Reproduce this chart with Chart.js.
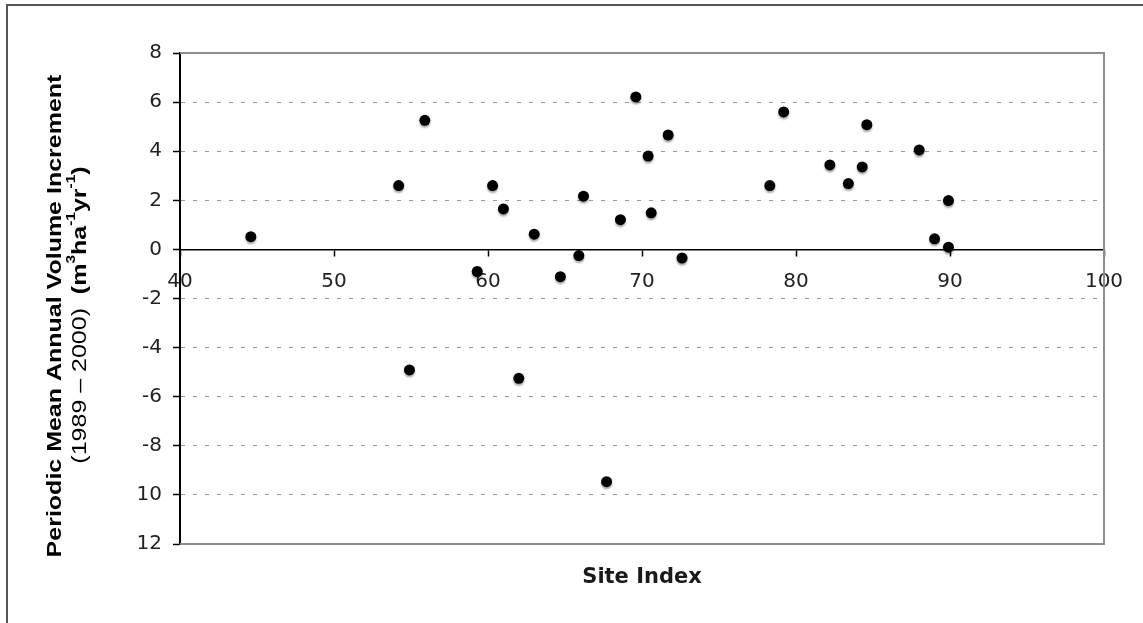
<!DOCTYPE html>
<html>
<head>
<meta charset="utf-8">
<title>Site Index vs Periodic Mean Annual Volume Increment</title>
<script src="https://cdn.jsdelivr.net/npm/chart.js@4.4.0/dist/chart.umd.min.js"></script>
<style>
  html, body { margin: 0; padding: 0; background: #fff; }
  #wrap { position: relative; width: 1143px; height: 623px; overflow: hidden; }
  /* outer picture frame: only top and left edges are visible in the shot */
  #frame { position: absolute; left: 6px; top: 4px; width: 1200px; height: 700px;
           border-top: 2px solid #555; border-left: 2px solid #555; }
  #chart { position: absolute; left: 0; top: 0; }
</style>
</head>
<body>
<div id="wrap">
  <div id="frame"></div>
  <canvas id="chart" width="1143" height="623"></canvas>
</div>
<script>
// Data.
const SITE_INDEX = [44.6, 54.2, 54.9, 55.9, 59.3, 60.3, 61.0, 62.0, 63.0, 64.7,
                    65.9, 66.2, 67.7, 68.6, 69.6, 70.4, 70.6, 71.7, 72.6, 78.3,
                    79.2, 82.2, 83.4, 84.3, 84.6, 88.0, 89.0, 89.9, 89.9];
const VOLUME_INCREMENT = [0.52, 2.60, -4.91, 5.26, -0.90, 2.60, 1.65, -5.25, 0.62, -1.11,
                          -0.25, 2.17, -9.46, 1.21, 6.21, 3.80, 1.49, 4.66, -0.35, 2.60,
                          5.60, 3.44, 2.68, 3.36, 5.08, 4.05, 0.43, 1.99, 0.09];

// Tick labels as printed (the source lost the minus on 10 and 12).
const Y_TICK_VALUES = [8, 6, 4, 2, 0, -2, -4, -6, -8, -10, -12];
const Y_TICK_LABELS = ["8", "6", "4", "2", "0", "-2", "-4", "-6", "-8", "10", "12"];
const X_TICK_VALUES = [40, 50, 60, 70, 80, 90, 100];
const X_TICK_LABELS = ["40", "50", "60", "70", "80", "90", "100"];

const X_TITLE = "Site Index";
const Y_TITLE_1 = "Periodic Mean Annual Volume Increment";
// second title line, split so the unit exponents can be raised
const Y_TITLE_2 = [
  { text: "(1989 \u2013 2000)  ", bold: false },
  { text: "(m", bold: true },
  { text: "3", bold: true, sup: true },
  { text: "ha", bold: true },
  { text: "-1", bold: true, sup: true },
  { text: "yr", bold: true },
  { text: "-1", bold: true, sup: true },
  { text: ")", bold: true }
];

const TICK_FONT = { family: '"DejaVu Sans", Verdana, sans-serif', size: 20 };
const TITLE_FAMILY = '"Liberation Sans", Arial, sans-serif';

// Draw a run of text parts centred at (cx, cy), rotated, stretched along the run.
function drawRun(ctx, parts, cx, cy, size, stretch) {
  const fontFor = p => `${p.bold ? "bold " : ""}${p.sup ? Math.round(size * 0.62) : size}px ${TITLE_FAMILY}`;
  let total = 0;
  parts.forEach(p => { ctx.font = fontFor(p); total += ctx.measureText(p.text).width; });
  ctx.save();
  ctx.translate(cx, cy);
  ctx.rotate(-Math.PI / 2);
  ctx.scale(stretch, 1);
  ctx.fillStyle = "#000";
  ctx.textBaseline = "middle";
  ctx.textAlign = "left";
  let x = -total / 2;
  parts.forEach(p => {
    ctx.font = fontFor(p);
    ctx.fillText(p.text, x, p.sup ? -size * 0.42 : 0);
    x += ctx.measureText(p.text).width;
  });
  ctx.restore();
}

// Plot frame (grey top/right/bottom), soft shadow under the dots, and the titles.
const decorations = {
  id: "decorations",
  beforeDatasetsDraw(chart) {
    const { ctx, chartArea: a } = chart;
    ctx.save();
    ctx.strokeStyle = "#8c8c8c";
    ctx.lineWidth = 2;
    ctx.beginPath();
    ctx.moveTo(a.left, a.top); ctx.lineTo(a.right, a.top);
    ctx.lineTo(a.right, a.bottom); ctx.lineTo(a.left, a.bottom);
    ctx.stroke();
    ctx.restore();
    ctx.save();
    ctx.shadowColor = "rgba(0,0,0,0.35)";
    ctx.shadowOffsetY = 2;
    ctx.shadowBlur = 2;
  },
  afterDatasetsDraw(chart) {
    chart.ctx.restore();
  },
  afterDraw(chart) {
    const { ctx, chartArea: a } = chart;
    drawRun(ctx, [{ text: Y_TITLE_1, bold: true }], 55, 316, 21, 1.19);
    drawRun(ctx, Y_TITLE_2, 80, 315, 21, 1.19);
    ctx.save();
    ctx.font = `bold 21px "DejaVu Sans", Verdana, sans-serif`;
    ctx.fillStyle = "#1a1a1a";
    ctx.textAlign = "center";
    ctx.textBaseline = "middle";
    ctx.fillText(X_TITLE, (a.left + a.right) / 2, 578);
    ctx.restore();
  }
};

const points = SITE_INDEX.map((x, i) => ({ x, y: VOLUME_INCREMENT[i] }));

new Chart(document.getElementById("chart").getContext("2d"), {
  type: "scatter",
  data: {
    datasets: [{
      data: points,
      pointRadius: 5.5,
      pointHoverRadius: 5.5,
      backgroundColor: "#000",
      borderWidth: 0
    }]
  },
  options: {
    responsive: false,
    animation: false,
    layout: { padding: { left: 0, top: 53, right: 39, bottom: 79 } },
    plugins: { legend: { display: false }, tooltip: { enabled: false } },
    scales: {
      x: {
        type: "linear",
        position: { y: 0 },
        min: 40, max: 100,
        afterBuildTicks: s => { s.ticks = X_TICK_VALUES.map(v => ({ value: v })); },
        ticks: {
          font: TICK_FONT, color: "#222", padding: 14, maxRotation: 0,
          callback: v => X_TICK_LABELS[X_TICK_VALUES.indexOf(v)]
        },
        grid: { drawOnChartArea: false, tickLength: 6, tickColor: "#000", tickWidth: 1.5 },
        border: { color: "#000", width: 1.5 }
      },
      y: {
        type: "linear",
        position: "left",
        min: -12, max: 8,
        afterBuildTicks: s => { s.ticks = Y_TICK_VALUES.map(v => ({ value: v })); },
        afterFit: s => { s.width = 180; },
        ticks: {
          font: TICK_FONT, color: "#222", padding: 11,
          callback: v => Y_TICK_LABELS[Y_TICK_VALUES.indexOf(v)]
        },
        grid: {
          color: c => [8, 0, -12].includes(c.tick && c.tick.value) ? "rgba(0,0,0,0)" : "#9a9a9a",
          tickLength: 7, tickColor: "#000", tickWidth: 1.5
        },
        border: { color: "#000", width: 2, dash: [4, 8] }
      }
    }
  },
  plugins: [decorations]
});
</script>
</body>
</html>
